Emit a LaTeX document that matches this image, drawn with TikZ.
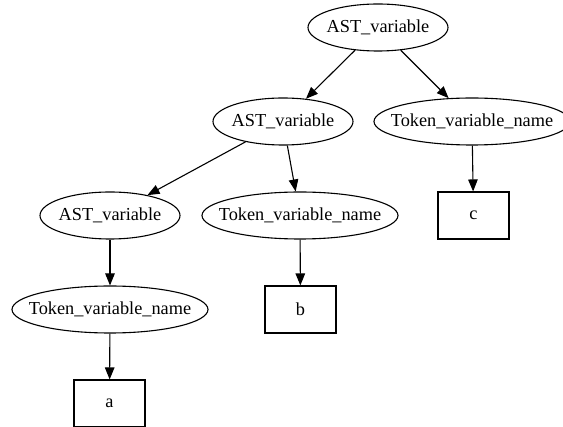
\documentclass[tikz,border=0pt]{standalone}
\usepackage{fontspec}
\setmainfont{Liberation Serif}
\usetikzlibrary{shapes.geometric,arrows.meta}
\tikzset{
  gvnode/.style={draw, line width=1.1pt, inner sep=0pt, minimum height=47pt, font=\fontsize{18.3pt}{22pt}\selectfont},
  astnode/.style={gvnode, ellipse, minimum width=140pt},
  toknode/.style={gvnode, ellipse, minimum width=196pt},
  leafbox/.style={gvnode, rectangle, minimum width=71pt},
  gvedge/.style={draw, line width=1.1pt, -{Triangle[length=12pt,width=9.5pt]}},
  lbl/.style={label={[font=\fontsize{18.3pt}{22pt}\selectfont]center:#1}}
}
\begin{document}
\begin{tikzpicture}[x=1pt,y=-1pt]
\useasboundingbox (0,0) rectangle (563,427);
\node[astnode, lbl={AST\_variable}] (top) at (378,27.5) {};
\node[astnode, lbl={AST\_variable}] (mid) at (283,121.5) {};
\node[toknode, lbl={Token\_variable\_name}] (tokr) at (472,121.5) {};
\node[astnode, lbl={AST\_variable}] (left) at (110,215.5) {};
\node[toknode, lbl={Token\_variable\_name}] (tokm) at (300,215.5) {};
\node[leafbox] (c) at (473.5,215.5) {c};
\node[toknode, lbl={Token\_variable\_name}] (tokl) at (110,309.5) {};
\node[leafbox] (b) at (300.5,309.5) {b};
\node[leafbox] (a) at (109.5,403.5) {a};
\path[gvedge] (top) -- (mid);
\path[gvedge] (top) -- (tokr);
\path[gvedge] (mid) -- (left);
\path[gvedge] (mid) -- (tokm);
\path[gvedge] (tokr) -- (c);
\path[gvedge] (left) -- (tokl);
\path[gvedge] (tokm) -- (b);
\path[gvedge] (tokl) -- (a);
\end{tikzpicture}
\end{document}
